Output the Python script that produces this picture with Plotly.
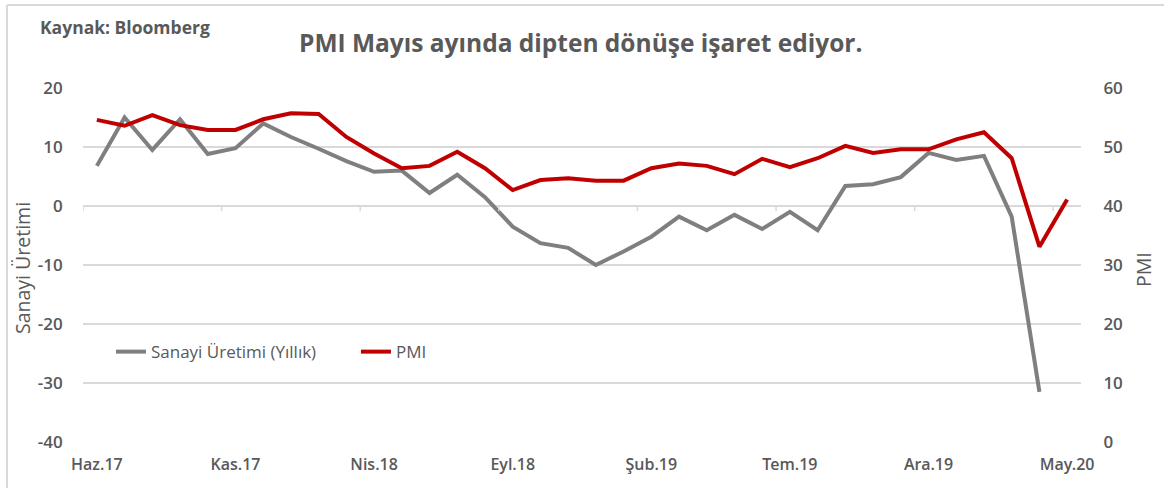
import plotly.graph_objects as go

months = ["Haz.17", "Tem.17", "Ağu.17", "Eyl.17", "Eki.17", "Kas.17", "Ara.17",
          "Oca.18", "Şub.18", "Mar.18", "Nis.18", "May.18", "Haz.18", "Tem.18",
          "Ağu.18", "Eyl.18", "Eki.18", "Kas.18", "Ara.18", "Oca.19", "Şub.19",
          "Mar.19", "Nis.19", "May.19", "Haz.19", "Tem.19", "Ağu.19", "Eyl.19",
          "Eki.19", "Kas.19", "Ara.19", "Oca.20", "Şub.20", "Mar.20", "Nis.20",
          "May.20"]

sanayi = [6.8, 15.0, 9.5, 14.7, 8.8, 9.8, 14.0, 11.7, 9.7, 7.6, 5.8, 6.0,
          2.2, 5.3, 1.5, -3.5, -6.3, -7.1, -10.0, -7.7, -5.2, -1.8, -4.1,
          -1.5, -3.9, -1.0, -4.1, 3.4, 3.7, 4.9, 9.0, 7.8, 8.5, -1.8, -31.5,
          None]

pmi = [54.6, 53.6, 55.4, 53.7, 52.9, 52.9, 54.7, 55.7, 55.6, 51.7, 48.9,
       46.4, 46.8, 49.2, 46.4, 42.7, 44.4, 44.7, 44.3, 44.3, 46.4, 47.2,
       46.8, 45.4, 48.0, 46.6, 48.1, 50.2, 49.0, 49.6, 49.6, 51.3, 52.5,
       48.1, 33.1, 41.1]

tick_labels = ["Haz.17", "Kas.17", "Nis.18", "Eyl.18", "Şub.19", "Tem.19",
               "Ara.19", "May.20"]
left_ticks = [20, 10, 0, -10, -20, -30, -40]
left_tick_text = ["20", "10", "0", "-10", "-20", "-30", "-40"]
right_ticks = [60, 50, 40, 30, 20, 10, 0]

FONT = "Open Sans"
TXT = "#595959"
GRID = "#d9d9d9"

fig = go.Figure()
fig.add_trace(go.Scatter(x=months, y=sanayi, name="Sanayi Üretimi (Yıllık)",
                         mode="lines", line=dict(color="#7f7f7f", width=4),
                         yaxis="y"))
fig.add_trace(go.Scatter(x=months, y=pmi, name="PMI", mode="lines",
                         line=dict(color="#c00000", width=4), yaxis="y2"))

# small category tick marks on the zero line every 5 months
shapes = []
for k in range(0, len(months) + 1, 5):
    shapes.append(dict(type="line", xref="x", yref="y", x0=k - 0.5, x1=k - 0.5,
                       y0=0, y1=-0.9, line=dict(color=GRID, width=1.5)))
# outer frame (left and top)
shapes.append(dict(type="line", xref="paper", yref="paper", x0=-0.0762, x1=-0.0762,
                   y0=-0.3, y1=1.2345, line=dict(color=GRID, width=2)))
shapes.append(dict(type="line", xref="paper", yref="paper", x0=-0.0762, x1=1.2,
                   y0=1.2345, y1=1.2345, line=dict(color=GRID, width=2)))

fig.update_layout(
    width=1164, height=488,
    margin=dict(l=83, r=83, t=88, b=46),
    paper_bgcolor="white", plot_bgcolor="white",
    font=dict(family=FONT, color=TXT),
    showlegend=True,
    legend=dict(orientation="h", x=0.028, y=0.254, xanchor="left",
                yanchor="middle", bgcolor="rgba(0,0,0,0)",
                font=dict(size=17, color=TXT, family=FONT), itemwidth=30,
                entrywidth=200, entrywidthmode="pixels",
                tracegroupgap=0),
    xaxis=dict(type="category", range=[-0.5, len(months) - 0.5],
               tickmode="array", tickvals=tick_labels, ticktext=tick_labels,
               showgrid=False, zeroline=False, showline=False,
               ticks="outside", ticklen=8, tickcolor="rgba(0,0,0,0)",
               tickfont=dict(size=16, color=TXT, family=FONT + " SemiBold"),
               ),
    yaxis=dict(range=[-40, 20], tickmode="array", tickvals=left_ticks,
               ticktext=left_tick_text,
               showgrid=True, gridcolor=GRID, gridwidth=1.5,
               zeroline=False, showline=False,
               ticks="outside", ticklen=16, tickcolor="rgba(0,0,0,0)",
               tickfont=dict(size=17, color=TXT, family=FONT + " SemiBold")),
    yaxis2=dict(range=[0, 60], overlaying="y", side="right", tickmode="array",
                tickvals=right_ticks, showgrid=False, zeroline=False,
                showline=False, ticks="outside", ticklen=18,
                tickcolor="rgba(0,0,0,0)",
                tickfont=dict(size=17, color=TXT, family=FONT + " SemiBold")),
    shapes=shapes,
    annotations=[
        dict(text="<b>PMI Mayıs ayında dipten dönüşe işaret ediyor.</b>",
             xref="paper", yref="paper", x=(580 - 83) / 998, y=(442 - 43) / 354,
             xanchor="center", yanchor="middle", showarrow=False,
             font=dict(size=24.5, color=TXT, family=FONT)),
        dict(text="<b>Kaynak: Bloomberg</b>", xref="paper", yref="paper",
             x=(38 - 83) / 998, y=(442 - 27) / 354, xanchor="left",
             yanchor="middle", showarrow=False,
             font=dict(size=17.5, color=TXT, family=FONT)),
        dict(text="Sanayi Üretimi", xref="paper", yref="paper",
             x=(22 - 83) / 998, y=(442 - 268) / 354, xanchor="center",
             yanchor="middle", textangle=-90, showarrow=False,
             font=dict(size=19.5, color=TXT, family=FONT)),
        dict(text="PMI", xref="paper", yref="paper",
             x=(1143 - 83) / 998, y=(442 - 270) / 354, xanchor="center",
             yanchor="middle", textangle=-90, showarrow=False,
             font=dict(size=19.5, color=TXT, family=FONT)),
    ],
)

fig.write_html("out.html", config={"displayModeBar": False},
               post_script="document.body.style.margin='0';")
